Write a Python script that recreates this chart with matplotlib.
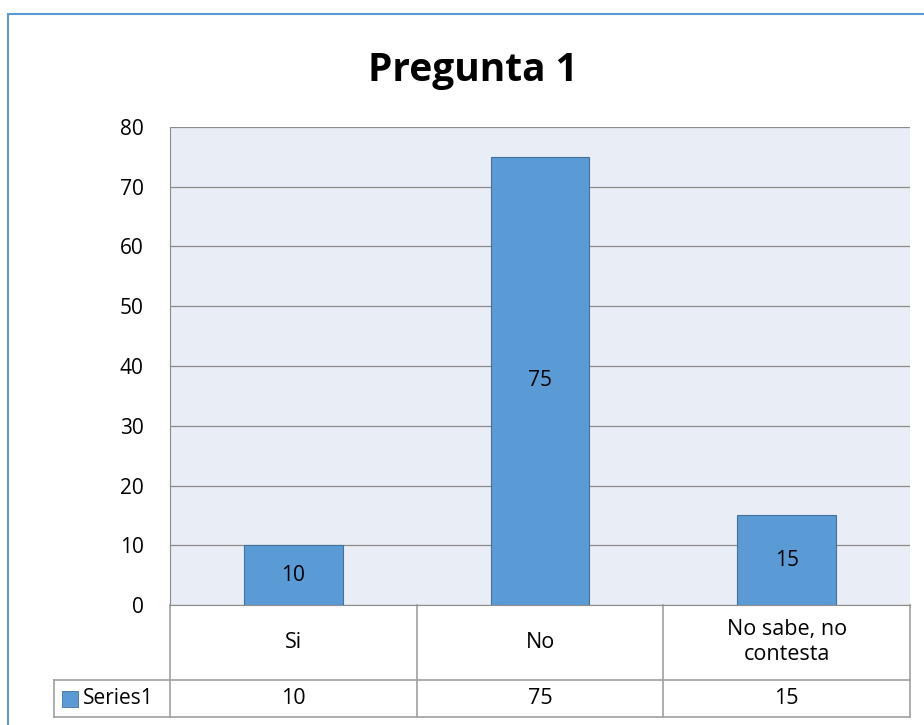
import numpy as np
import matplotlib.pyplot as plt
from matplotlib.patches import Rectangle

categories = ["Si", "No", "No sabe, no\ncontesta"]
values = [10, 75, 15]
series_name = "Series1"
yticks = [0, 10, 20, 30, 40, 50, 60, 70, 80]

bar_color = "#5B9BD5"
edge_color = "#41719C"
grid_color = "#8C8C8C"
table_color = "#A0A0A0"

plt.rcParams['font.family'] = ['Open Sans', 'DejaVu Sans']

fig = plt.figure(figsize=(9.24, 7.25), dpi=100)
ax = fig.add_axes([170 / 924, 1 - 605 / 725, 740 / 924, 478 / 725])

# chart frame
fig.patches.append(Rectangle((8 / 924, -0.1), 1.2, 1 - 14 / 725 + 0.1,
                             transform=fig.transFigure, fill=False,
                             edgecolor="#5B9BD5", linewidth=1.5))

x = np.arange(len(categories))
ax.set_facecolor("#E9EDF5")
bars = ax.bar(x, values, width=0.4, color=bar_color, edgecolor=edge_color,
              linewidth=0.8, zorder=3)
for xi, v in zip(x, values):
    ax.text(xi, v / 2, str(v), ha="center", va="center", fontsize=15, zorder=4)

ax.set_xlim(-0.5, len(categories) - 0.5)
ax.set_ylim(0, 80)
ax.set_yticks(yticks)
ax.yaxis.grid(True, color=grid_color, linewidth=0.9, zorder=0)
ax.tick_params(axis="y", length=0, labelsize=15, pad=19)
ax.set_xticks([])
for s in ["top", "right"]:
    ax.spines[s].set_visible(False)
ax.spines["left"].set_color(grid_color)
ax.spines["bottom"].set_color(grid_color)

fig.text(0.512, 1 - 70 / 725, "Pregunta 1", ha="center", va="center",
         fontsize=28, fontweight="bold")

# data table under the plot
h = 478.0
row1 = -75 / h
row2 = -112 / h
left_ext = (54 - 170) / 740
kw = dict(transform=ax.transAxes, color=table_color, linewidth=1.2, clip_on=False)
ax.plot([left_ext, 1], [row1, row1], **kw)
ax.plot([left_ext, 1], [row2, row2], **kw)
ax.plot([left_ext, left_ext], [row1, row2], **kw)
for k in range(len(categories) + 1):
    xf = k / len(categories)
    ax.plot([xf, xf], [0, row2], **kw)

trans = ax.get_xaxis_transform()
for xi, c, v in zip(x, categories, values):
    ax.text(xi, row1 / 2, c, ha="center", va="center", fontsize=15.5,
            transform=trans, clip_on=False, linespacing=1.25)
    ax.text(xi, (row1 + row2) / 2, str(v), ha="center", va="center",
            fontsize=15.5, transform=trans, clip_on=False)

ax.add_patch(Rectangle((left_ext + 8 / 740, (row1 + row2) / 2 - 8 / h), 16 / 740, 16 / h,
                       transform=ax.transAxes, facecolor=bar_color,
                       edgecolor=edge_color, linewidth=0.6, clip_on=False))
ax.text(left_ext + 29 / 740, (row1 + row2) / 2, series_name, ha="left", va="center",
        fontsize=15, transform=ax.transAxes, clip_on=False)

fig.savefig("out.png", dpi=100)
